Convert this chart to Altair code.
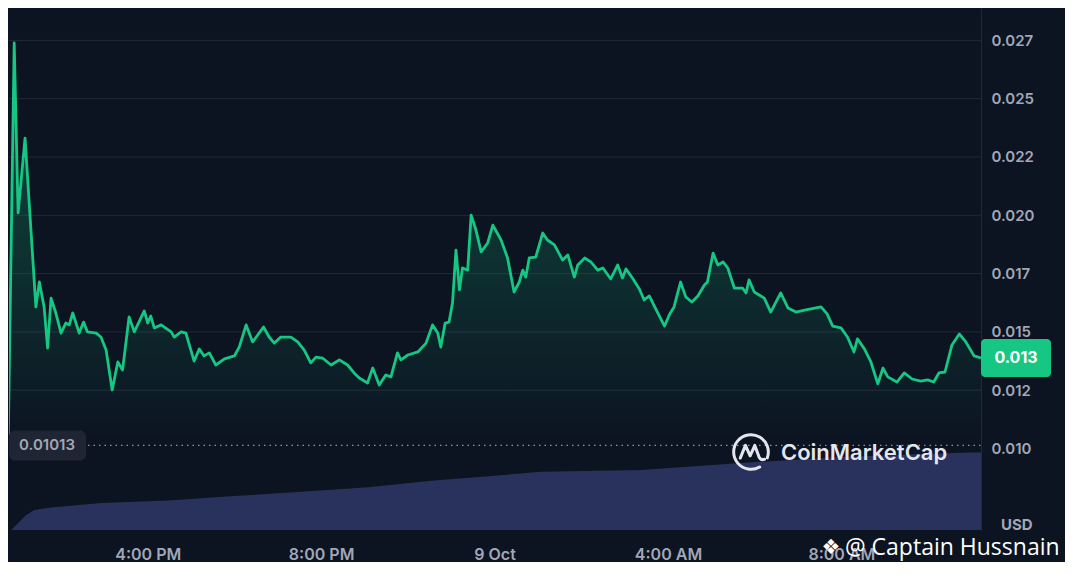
import math
import altair as alt
import pandas as pd

# ---------------- data ----------------
hours = [12.78, 12.92, 13.01, 13.17, 13.42, 13.50, 13.61, 13.69, 13.77, 13.88,
         14.00, 14.11, 14.19, 14.27, 14.42, 14.52, 14.61, 14.81, 14.92, 15.04,
         15.18, 15.31, 15.42, 15.57, 15.69, 15.92, 16.00, 16.07, 16.15, 16.31,
         16.54, 16.61, 16.77, 16.88, 17.07, 17.19, 17.30, 17.42, 17.57, 17.77,
         18.00, 18.11, 18.27, 18.42, 18.67, 18.80, 18.92, 19.07, 19.30, 19.46,
         19.61, 19.76, 19.88, 20.03, 20.23, 20.42, 20.61, 20.76, 20.88, 21.07,
         21.19, 21.34, 21.49, 21.61, 21.76, 21.84, 22.00, 22.23, 22.42, 22.57,
         22.69, 22.76, 22.86, 22.95, 23.03, 23.11, 23.19, 23.26, 23.38, 23.46,
         23.57, 23.69, 23.84, 23.96, 24.15, 24.30, 24.45, 24.57, 24.65, 24.72,
         24.80, 24.95, 25.11, 25.22, 25.38, 25.57, 25.69, 25.84, 25.92, 26.08,
         26.22, 26.38, 26.50, 26.68, 26.84, 26.95, 27.03, 27.18, 27.34, 27.45,
         27.57, 27.72, 27.92, 28.04, 28.14, 28.29, 28.41, 28.55, 28.69, 28.84,
         28.91, 29.04, 29.15, 29.27, 29.38, 29.53, 29.72, 29.80, 29.87, 29.99,
         30.22, 30.37, 30.60, 30.77, 30.95, 31.18, 31.53, 31.67, 31.80, 31.99,
         32.14, 32.29, 32.37, 32.53, 32.68, 32.84, 32.96, 33.07, 33.28, 33.45,
         33.63, 33.83, 33.99, 34.13, 34.25, 34.39, 34.55, 34.72, 34.87, 35.06,
         35.22]

prices = [0.01013, 0.02739, 0.02010, 0.02331, 0.01607, 0.01714, 0.01607, 0.01431, 0.01645, 0.01581,
          0.01495, 0.01538, 0.01530, 0.01581, 0.01495, 0.01542, 0.01500, 0.01495, 0.01478, 0.01422,
          0.01251, 0.01371, 0.01337, 0.01564, 0.01500, 0.01590, 0.01538, 0.01568, 0.01517, 0.01530,
          0.01500, 0.01478, 0.01500, 0.01495, 0.01375, 0.01427, 0.01397, 0.01410, 0.01358, 0.01384,
          0.01397, 0.01435, 0.01530, 0.01457, 0.01521, 0.01478, 0.01452, 0.01478, 0.01478, 0.01457,
          0.01422, 0.01367, 0.01392, 0.01388, 0.01358, 0.01380, 0.01358, 0.01324, 0.01302, 0.01281,
          0.01345, 0.01272, 0.01315, 0.01307, 0.01410, 0.01380, 0.01401, 0.01414, 0.01452, 0.01530,
          0.01495, 0.01435, 0.01538, 0.01542, 0.01624, 0.01851, 0.01680, 0.01774, 0.01765, 0.02001,
          0.01937, 0.01843, 0.01881, 0.01958, 0.01894, 0.01817, 0.01671, 0.01714, 0.01765, 0.01735,
          0.01817, 0.01821, 0.01924, 0.01894, 0.01873, 0.01808, 0.01830, 0.01735, 0.01787, 0.01817,
          0.01800, 0.01765, 0.01774, 0.01727, 0.01787, 0.01731, 0.01770, 0.01731, 0.01684, 0.01637,
          0.01654, 0.01598, 0.01525, 0.01577, 0.01607, 0.01714, 0.01650, 0.01628, 0.01654, 0.01701,
          0.01714, 0.01838, 0.01787, 0.01800, 0.01774, 0.01688, 0.01688, 0.01667, 0.01723, 0.01671,
          0.01645, 0.01585, 0.01667, 0.01602, 0.01585, 0.01594, 0.01607, 0.01577, 0.01525, 0.01517,
          0.01478, 0.01414, 0.01470, 0.01427, 0.01371, 0.01277, 0.01345, 0.01307, 0.01285, 0.01324,
          0.01298, 0.01289, 0.01294, 0.01285, 0.01324, 0.01328, 0.01444, 0.01491, 0.01457, 0.01397,
          0.01388]

vol_hours = [12.85, 13.03, 13.19, 13.38, 13.77, 14.92, 16.47, 17.99, 19.53, 21.08,
             22.60, 24.15, 25.07, 27.38, 29.68, 31.99, 34.92, 35.22]
vol_values = [0, 0.9, 1.7, 2.3, 2.6, 3.1, 3.4, 3.9, 4.4, 4.9,
              5.7, 6.3, 6.7, 6.9, 7.7, 8.4, 8.9, 8.9]

tick_hours = [16, 20, 24, 28, 32]
tick_labels = ["4:00 PM", "8:00 PM", "9 Oct", "4:00 AM", "8:00 AM"]
y_ticks = [0.010, 0.0125, 0.015, 0.0175, 0.020, 0.0225, 0.025, 0.0275]
low_price = 0.01013
currency = "USD"
brand = "CoinMarketCap"
watermark = "@ Captain Hussnain"

# ---------------- style ----------------
W, H = 972, 522
X_DOM = [12.80, 35.22]
Y_DOM = [0.006505, 0.028889]
V_DOM = [0, 60]
BG = "#0c1321"
GREEN = "#16c784"
GRID = "#222a38"
LABEL = "#a1a7b7"
FONT = "Inter"

price_df = pd.DataFrame({"hour": hours, "price": prices})
vol_df = pd.DataFrame({"hour": vol_hours, "volume": vol_values})
grid_df = pd.DataFrame({"level": y_ticks[1:]})
one = pd.DataFrame({"k": [0]})

x_label_expr = " : ".join(
    f"datum.value == {h} ? '{t}'" for h, t in zip(tick_hours, tick_labels)
) + " : ''"

x_scale = alt.Scale(domain=X_DOM, nice=False, zero=False)
y_scale = alt.Scale(domain=Y_DOM, nice=False, zero=False)

x_axis = alt.Axis(values=tick_hours, labelExpr=x_label_expr, grid=False, ticks=False,
                  domain=False, labelPadding=16, labelFontSize=16, labelFont=FONT,
                  labelFontWeight=600, labelColor=LABEL, labelOverlap=False, labelFlush=False,
                  title=None)
y_axis = alt.Axis(orient="right", values=y_ticks,
                  labelExpr="format(floor(datum.value*1000+0.000001)/1000, '.3f')",
                  grid=False, ticks=False, domain=True, domainColor=GRID,
                  labelPadding=10, labelFontSize=15, labelFont=FONT,
                  labelFontWeight=600, labelColor=LABEL, labelAlign="left",
                  labelOverlap=False, title=None)


def xq(field):
    return alt.X(field, type="quantitative", scale=x_scale, axis=x_axis)


def yq(field):
    return alt.Y(field, type="quantitative", scale=y_scale, axis=y_axis)


def yd(v):
    return alt.YDatum(v, type="quantitative", scale=y_scale, axis=y_axis)


def y2d(v):
    return alt.Y2Datum(v)


# volume
volume = alt.Chart(vol_df).mark_area(color="#29315d", clip=True).encode(
    x=xq("hour"),
    y=alt.Y("volume:Q", scale=alt.Scale(domain=V_DOM, nice=False), axis=None),
)

grid = alt.Chart(grid_df).mark_rule(color=GRID, strokeWidth=1).encode(
    x=alt.value(0), x2=alt.value(W), y=yq("level"),
)

area = alt.Chart(price_df).mark_area(
    clip=True,
    color=alt.Gradient(
        gradient="linear",
        stops=[alt.GradientStop(color="rgba(22,199,132,0.32)", offset=0),
               alt.GradientStop(color="rgba(22,199,132,0.14)", offset=0.6),
               alt.GradientStop(color="rgba(22,199,132,0.0)", offset=1)],
        x1=1, x2=1, y1=0, y2=1,
    ),
).encode(x=xq("hour"), y=yq("price"), y2=y2d(low_price))

line = alt.Chart(price_df).mark_line(color=GREEN, strokeWidth=2.8, clip=True,
                                     strokeJoin="round").encode(
    x=xq("hour"), y=yq("price"),
)

dotted = alt.Chart(one).mark_rule(color="#8e94a4", strokeWidth=1.3, strokeDash=[1.5, 4]).encode(
    x=alt.value(79), x2=alt.value(W), y=yd(low_price),
)

low_box = alt.Chart(one).mark_rect(color="#1f2532", cornerRadius=6, yOffset=-15, y2Offset=15).encode(
    x=alt.value(0), x2=alt.value(77), y=yd(low_price), y2=y2d(low_price),
)
low_text = alt.Chart(one).mark_text(
    align="center", baseline="middle", font=FONT, fontSize=15, fontWeight=600, color=LABEL,
).encode(x=alt.value(38), y=yd(low_price), text=alt.value(f"{low_price:.5f}"))

last = prices[-1]
tag_box = alt.Chart(one).mark_rect(color=GREEN, cornerRadius=4, yOffset=-19, y2Offset=19).encode(
    x=alt.value(972), x2=alt.value(1042), y=yd(last), y2=y2d(last),
)
tag_text = alt.Chart(one).mark_text(
    align="center", baseline="middle", font=FONT, fontSize=16, fontWeight=700, color="#ffffff",
).encode(x=alt.value(1007), y=yd(last),
         text=alt.value(f"{math.floor(last * 1000) / 1000:.3f}"))

usd = alt.Chart(one).mark_text(
    align="left", baseline="middle", font=FONT, fontSize=15, fontWeight=700, color=LABEL,
).encode(x=alt.value(992), y=alt.value(517), text=alt.value(currency))

logo_path = ("M 0.5 0.866 A 1 1 0 1 1 0.94 0.34 "
             "M -0.62 0.35 L -0.32 -0.38 L -0.05 0.22 L 0.22 -0.38 L 0.46 0.28 "
             "Q 0.56 0.5 0.78 0.42")
logo = alt.Chart(one).mark_point(
    shape=logo_path, filled=False, stroke="#e3e6ee", strokeWidth=3, size=1200,
    strokeCap="round", strokeJoin="round", opacity=1,
).encode(x=alt.value(742), y=alt.value(444))
brand_text = alt.Chart(one).mark_text(
    align="left", baseline="middle", font=FONT, fontSize=22, fontWeight=600, color="#e3e6ee",
).encode(x=alt.value(772), y=alt.value(445), text=alt.value(brand))

# keep the dark background running to the right edge of the page
right_fill = alt.Chart(one).mark_rect(color=BG).encode(
    x=alt.value(1040), x2=alt.value(1056), y=alt.value(0), y2=alt.value(550),
)

wm_icon = alt.Chart(one).mark_text(
    align="center", baseline="middle", font="DejaVu Sans", fontSize=21, color="#ffffff",
).encode(x=alt.value(822), y=alt.value(540), text=alt.value("❖"))
wm_text = alt.Chart(one).mark_text(
    align="left", baseline="middle", font="Open Sans", fontSize=23, color="#ffffff",
).encode(x=alt.value(836), y=alt.value(540), text=alt.value(watermark))

price_layer = alt.layer(right_fill, grid, area, dotted, line, low_box, low_text,
                        tag_box, tag_text, usd, logo, brand_text, wm_icon, wm_text)

chart = alt.layer(volume, price_layer).resolve_scale(y="independent").properties(
    width=W, height=H, background=BG, padding=0,
).configure_view(stroke=None)

chart.save("out.html", embed_options={"renderer": "svg", "actions": False})
